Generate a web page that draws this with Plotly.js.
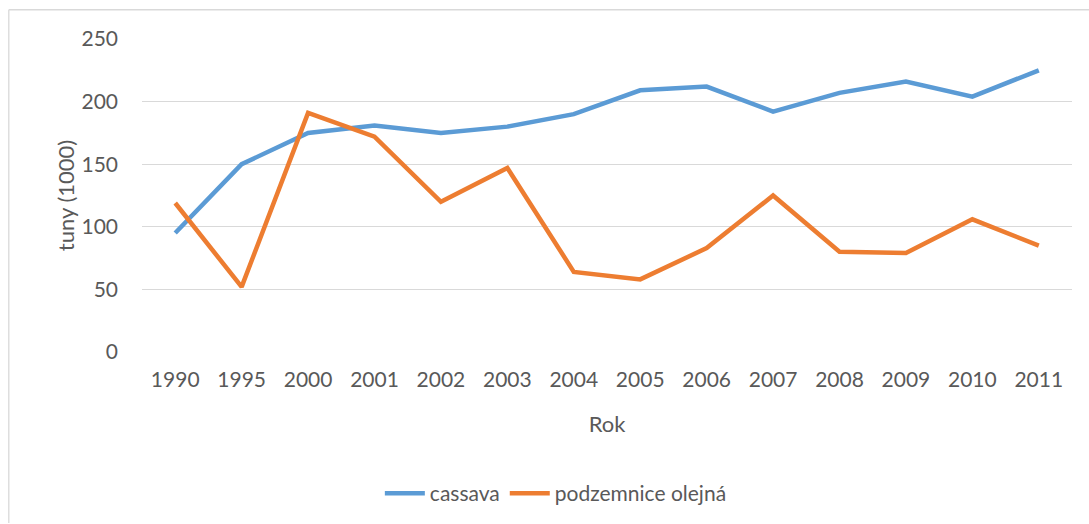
<!DOCTYPE html>
<html>
<head>
<meta charset="utf-8">
<script src="https://cdn.plot.ly/plotly-3.0.1.min.js"></script>
<style>html,body{margin:0;padding:0;background:#fff;}#chart{width:1089px;height:524px;}</style>
</head>
<body>
<div id="chart"></div>
<script>
const years = ['1990','1995','2000','2001','2002','2003','2004','2005','2006','2007','2008','2009','2010','2011'];
const cassava = [95, 150, 175, 181, 175, 180, 190, 209, 212, 192, 207, 216, 204, 225];
const podzemnice = [119, 52, 191, 172, 120, 147, 64, 58, 83, 125, 80, 79, 106, 85];
const seriesNames = ['cassava', 'podzemnice olejná'];
const yTicks = [0, 50, 100, 150, 200, 250];

const font = 'Lato, "Open Sans", sans-serif';
const textColor = '#595959';

const traces = [
  {x: years, y: cassava, name: seriesNames[0], type: 'scatter', mode: 'lines',
   line: {color: '#5b9bd5', width: 4.5, shape: 'linear'}},
  {x: years, y: podzemnice, name: seriesNames[1], type: 'scatter', mode: 'lines',
   line: {color: '#ed7d31', width: 4.5, shape: 'linear'}}
];

const L = 141.7, R = 1071.7, T = 39.3, B = 352.7, W = 1089, H = 524;
const pw = R - L, ph = B - T;
const px = v => (v - L) / pw;
const py = v => (B - v) / ph;

const layout = {
  width: W, height: H,
  margin: {l: L, r: W - R, t: T, b: H - B},
  paper_bgcolor: '#fff', plot_bgcolor: '#fff',
  font: {family: font, size: 21, color: textColor},
  showlegend: true,
  legend: {orientation: 'h', x: 0.445, xanchor: 'center', y: py(493), yanchor: 'middle',
           font: {family: font, size: 21, color: textColor}, itemwidth: 40, tracegroupgap: 0},
  xaxis: {type: 'category', range: [-0.5, 13.5], showgrid: false, zeroline: false,
          showline: false, ticks: '', ticklabelstandoff: 13,
          tickfont: {family: font, size: 21, color: textColor},
          title: {text: 'Rok', standoff: 26, font: {family: font, size: 22, color: textColor}}},
  yaxis: {range: [0, 250], tickvals: yTicks, ticktext: yTicks.map(String),
          showgrid: true, gridcolor: '#d9d9d9', gridwidth: 1.3, zeroline: false, showline: false,
          ticks: '', ticklabelstandoff: 23,
          tickfont: {family: font, size: 21, color: textColor},
          title: {text: 'tuny (1000)', standoff: 0, font: {family: font, size: 22, color: textColor}}},
  shapes: [
    {type: 'line', xref: 'paper', yref: 'paper', x0: px(8.5), x1: px(1089), y0: py(10), y1: py(10),
     line: {color: '#d9d9d9', width: 1.3}},
    {type: 'line', xref: 'paper', yref: 'paper', x0: px(8.5), x1: px(8.5), y0: py(10), y1: py(524),
     line: {color: '#d9d9d9', width: 1.3}}
  ]
};

Plotly.newPlot('chart', traces, layout, {displayModeBar: false, staticPlot: true});
</script>
</body>
</html>
